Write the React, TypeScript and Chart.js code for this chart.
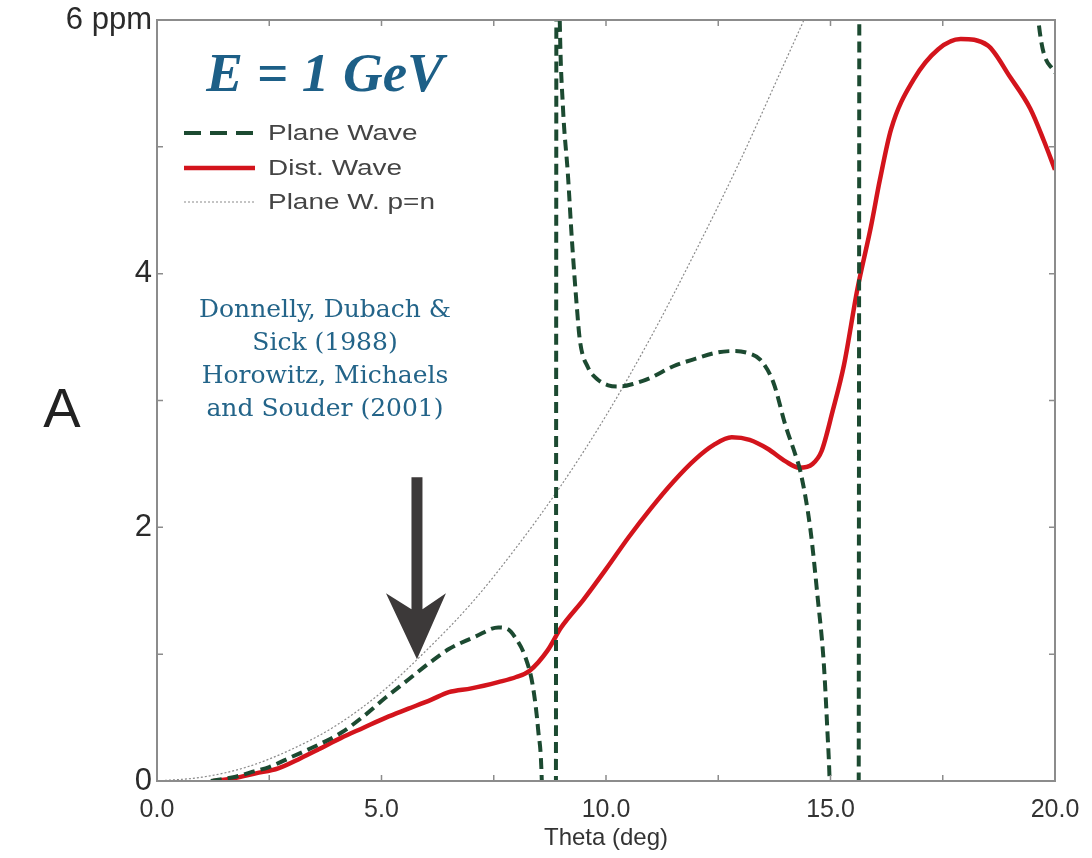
import { useEffect, useRef } from "react";
import { Chart, registerables } from "chart.js";

Chart.register(...registerables);

// Scattering angle (deg) and parity-violating asymmetry A (ppm), one pair of arrays per model
const distWaveTheta = [1.25, 1.7, 2.2, 2.7, 3.2, 3.6, 4.1, 4.6, 5.1, 5.6, 6.1, 6.5, 7.0, 7.6, 8.0, 8.3, 8.7, 9.0, 9.5, 10.0, 10.5, 11.0, 11.5, 12.0, 12.4, 12.8, 13.2, 13.6, 14.0, 14.3, 14.6, 14.8, 15.05, 15.3, 15.6, 15.9, 16.1, 16.35, 16.85, 17.4, 17.9, 18.5, 19.0, 19.45, 19.75, 20.0];
const distWaveA = [0, 0.02, 0.06, 0.10, 0.18, 0.25, 0.34, 0.42, 0.50, 0.57, 0.64, 0.70, 0.73, 0.78, 0.82, 0.87, 1.03, 1.21, 1.43, 1.67, 1.92, 2.15, 2.36, 2.54, 2.65, 2.71, 2.69, 2.62, 2.52, 2.47, 2.50, 2.60, 2.92, 3.28, 3.88, 4.37, 4.74, 5.14, 5.53, 5.77, 5.85, 5.80, 5.55, 5.30, 5.05, 4.82];

// Plane-wave result: diverges at the two diffraction minima (values beyond the axis range are clipped)
const planeWaveTheta = [1.2, 1.7, 2.2, 2.5, 3.0, 3.5, 4.1, 4.6, 5.1, 5.6, 6.1, 6.5, 7.1, 7.6, 7.8, 8.0, 8.2, 8.37, 8.49, 8.57, 8.65, 8.88, 8.9, 8.97, 9.04, 9.15, 9.24, 9.35, 9.42, 9.6, 9.8, 10.05, 10.3, 10.6, 11.0, 11.5, 12.0, 12.5, 12.85, 13.2, 13.44, 13.73, 14.0, 14.22, 14.33, 14.55, 14.71, 14.85, 14.93, 14.98, 15.1, 15.62, 15.65, 19.4, 19.62, 20.0];
const planeWaveA = [0, 0.03, 0.08, 0.11, 0.19, 0.27, 0.38, 0.51, 0.66, 0.80, 0.94, 1.04, 1.14, 1.21, 1.20, 1.12, 0.98, 0.75, 0.40, 0, -1.5, -1.5, 8, 6.0, 5.32, 4.79, 4.27, 3.74, 3.47, 3.26, 3.17, 3.12, 3.11, 3.13, 3.18, 3.27, 3.33, 3.38, 3.39, 3.37, 3.32, 3.14, 2.80, 2.57, 2.44, 1.99, 1.46, 0.93, 0.40, 0, -2, -2, 8, 8, 6.03, 5.58];

// Plane wave with equal proton and neutron densities
const planeWavePnTheta = [0, 1, 2, 3, 4, 5, 6, 7, 8, 9, 10, 11, 12, 13, 14, 14.6];
const planeWavePnA = [0, 0.03, 0.11, 0.25, 0.44, 0.70, 1.03, 1.40, 1.84, 2.33, 2.88, 3.50, 4.18, 4.90, 5.68, 6.15];

// Axis ranges and tick labels
const thetaRange = [0, 20];
const thetaStep = 2.5;
const asymRange = [0, 6];
const asymStep = 1;
const asymTickLabels: Record<number, string> = { 0: "0", 2: "2", 4: "4", 6: "6 ppm" };

const seriesNames = ["Plane Wave", "Dist. Wave", "Plane W. p=n"];
const headline = "E = 1 GeV";
const referenceLines = ["Donnelly, Dubach &", "Sick (1988)", "Horowitz, Michaels", "and Souder (2001)"];
// Angle / asymmetry that the arrow points at
const arrowTarget = { theta: 5.79, a: 0.96 };

const GREEN = "#1c4a31";
const RED = "#d3141c";
const GREY = "#8a8a8a";
const BLUE = "#1d5f87";

const toPoints = (xs: number[], ys: number[]) => xs.map((x, i) => ({ x, y: ys[i] }));

const decorations = {
  id: "decorations",
  afterDatasetsDraw(chart: any) {
    const { ctx, chartArea: a, scales } = chart;
    const xs = scales.x;
    const ys = scales.y;
    ctx.save();

    // frame with inward ticks on all four sides
    ctx.strokeStyle = "#8c8c8c";
    ctx.lineWidth = 2;
    ctx.strokeRect(a.left, a.top, a.right - a.left, a.bottom - a.top);
    ctx.lineWidth = 1.5;
    ctx.beginPath();
    xs.ticks.forEach((t: any) => {
      const px = xs.getPixelForValue(t.value);
      ctx.moveTo(px, a.bottom);
      ctx.lineTo(px, a.bottom - 6);
      ctx.moveTo(px, a.top);
      ctx.lineTo(px, a.top + 6);
    });
    ys.ticks.forEach((t: any) => {
      const py = ys.getPixelForValue(t.value);
      ctx.moveTo(a.left, py);
      ctx.lineTo(a.left + 6, py);
      ctx.moveTo(a.right, py);
      ctx.lineTo(a.right - 6, py);
    });
    ctx.stroke();

    // arrow pointing at the curves
    const tx = xs.getPixelForValue(arrowTarget.theta);
    const ty = ys.getPixelForValue(arrowTarget.a);
    ctx.fillStyle = "#3c3939";
    ctx.beginPath();
    ctx.moveTo(tx - 5.5, ty - 182);
    ctx.lineTo(tx + 5.5, ty - 182);
    ctx.lineTo(tx + 5.5, ty - 50);
    ctx.lineTo(tx + 29, ty - 66);
    ctx.lineTo(tx, ty);
    ctx.lineTo(tx - 31, ty - 66);
    ctx.lineTo(tx - 5.5, ty - 50);
    ctx.closePath();
    ctx.fill();

    // energy headline
    const cx = a.left + 168;
    ctx.fillStyle = BLUE;
    ctx.textAlign = "center";
    ctx.textBaseline = "alphabetic";
    ctx.font = "italic bold 55px 'Liberation Serif'";
    ctx.fillText(headline, cx, a.top + 71);

    // references
    ctx.fillStyle = "#236489";
    ctx.font = "25px 'DejaVu Serif'";
    referenceLines.forEach((line, i) => {
      ctx.fillText(line, cx, a.top + 297 + i * 33);
    });

    // legend
    const lx0 = a.left + 27;
    const lx1 = a.left + 98;
    const rows = [a.top + 113, a.top + 148, a.top + 182];
    const styles = [
      { color: GREEN, width: 4, dash: [17, 9] },
      { color: RED, width: 4.5, dash: [] as number[] },
      { color: GREY, width: 1.2, dash: [2, 2] },
    ];
    styles.forEach((s, i) => {
      ctx.strokeStyle = s.color;
      ctx.lineWidth = s.width;
      ctx.setLineDash(s.dash);
      ctx.beginPath();
      ctx.moveTo(lx0, rows[i]);
      ctx.lineTo(lx1, rows[i]);
      ctx.stroke();
    });
    ctx.setLineDash([]);
    ctx.fillStyle = "#444";
    ctx.textAlign = "left";
    ctx.textBaseline = "middle";
    ctx.font = "22px 'Liberation Sans'";
    seriesNames.forEach((name, i) => {
      ctx.save();
      ctx.translate(a.left + 111, rows[i] + 1);
      ctx.scale(1.27, 1);
      ctx.fillText(name, 0, 0);
      ctx.restore();
    });

    // y-axis name, upright
    ctx.fillStyle = "#222";
    ctx.textAlign = "center";
    ctx.textBaseline = "middle";
    ctx.font = "56px 'Liberation Sans'";
    ctx.fillText("A", 62, (a.top + a.bottom) / 2 + 11);

    ctx.restore();
  },
};

export default function App() {
  const canvasRef = useRef<HTMLCanvasElement | null>(null);

  useEffect(() => {
    document.body.style.margin = "0";
    const canvas = canvasRef.current;
    if (!canvas) return;

    const chart = new Chart(canvas, {
      type: "line",
      data: {
        datasets: [
          {
            label: seriesNames[0],
            data: toPoints(planeWaveTheta, planeWaveA),
            borderColor: GREEN,
            borderWidth: 4,
            borderDash: [11, 6],
            pointRadius: 0,
            cubicInterpolationMode: "monotone",
            clip: 0,
          },
          {
            label: seriesNames[1],
            data: toPoints(distWaveTheta, distWaveA),
            borderColor: RED,
            borderWidth: 4.5,
            pointRadius: 0,
            cubicInterpolationMode: "monotone",
            clip: 0,
          },
          {
            label: seriesNames[2],
            data: toPoints(planeWavePnTheta, planeWavePnA),
            borderColor: GREY,
            borderWidth: 1.2,
            borderDash: [2, 2],
            pointRadius: 0,
            cubicInterpolationMode: "monotone",
            clip: 0,
          },
        ],
      },
      options: {
        responsive: false,
        animation: false,
        events: [],
        layout: { padding: { top: 20, right: 37, left: 0, bottom: 0 } },
        plugins: {
          legend: { display: false },
          title: { display: false },
          tooltip: { enabled: false },
        },
        scales: {
          x: {
            type: "linear",
            min: thetaRange[0],
            max: thetaRange[1],
            grid: { display: false, drawTicks: false },
            border: { display: false },
            ticks: {
              stepSize: thetaStep,
              autoSkip: false,
              maxRotation: 0,
              padding: 14,
              color: "#333",
              font: { family: "'Liberation Sans'", size: 25 },
              callback: (v: any) => (Number(v) % 5 === 0 ? Number(v).toFixed(1) : ""),
            },
            title: {
              display: true,
              text: "Theta (deg)",
              color: "#333",
              font: { family: "'Liberation Sans'", size: 24 },
              padding: { top: 0, bottom: 5 },
            },
            afterFit: (s: any) => {
              s.height = 77;
              s.paddingLeft = 0;
              s.paddingRight = 0;
            },
          },
          y: {
            type: "linear",
            min: asymRange[0],
            max: asymRange[1],
            grid: { display: false, drawTicks: false },
            border: { display: false },
            ticks: {
              stepSize: asymStep,
              autoSkip: false,
              padding: 5,
              color: "#2a2a2a",
              font: { family: "'Liberation Sans'", size: 31 },
              callback: (v: any) => asymTickLabels[Number(v)] ?? "",
            },
            afterFit: (s: any) => {
              s.width = 157;
              s.paddingTop = 0;
              s.paddingBottom = 0;
            },
          },
        },
      },
      plugins: [decorations],
    });

    return () => chart.destroy();
  }, []);

  return <canvas ref={canvasRef} width={1092} height={858} style={{ display: "block" }} />;
}
